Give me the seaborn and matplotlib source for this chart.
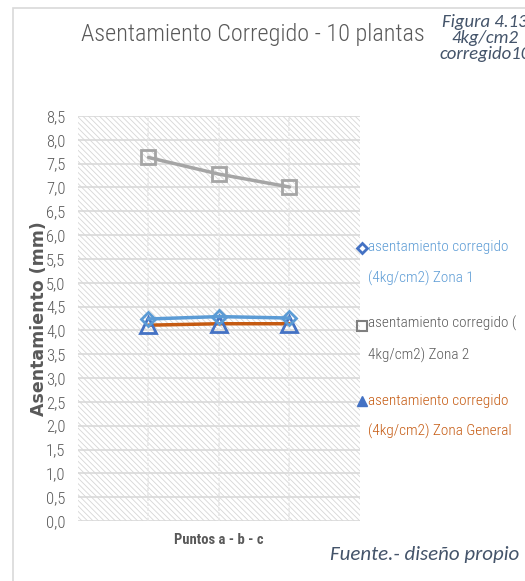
import pandas as pd
import matplotlib.pyplot as plt
import seaborn as sns
from matplotlib.lines import Line2D

puntos = ["a", "b", "c"]
zona1 = [4.24, 4.29, 4.26]
zona2 = [7.63, 7.28, 7.01]
zona_general = [4.11, 4.14, 4.14]
series_names = ["asentamiento corregido\n(4kg/cm2) Zona 1",
                "asentamiento corregido (\n4kg/cm2) Zona 2",
                "asentamiento corregido\n(4kg/cm2) Zona General"]
y_ticks = [0.0, 0.5, 1.0, 1.5, 2.0, 2.5, 3.0, 3.5, 4.0, 4.5, 5.0, 5.5, 6.0, 6.5, 7.0, 7.5, 8.0, 8.5]

df = pd.DataFrame({"pos": range(len(puntos)), "punto": puntos,
                   "zona1": zona1, "zona2": zona2, "zona_general": zona_general})

sns.set_style("white")
plt.rcParams['font.family'] = ["Roboto Condensed", "DejaVu Sans"]
plt.rcParams['hatch.linewidth'] = 0.6
italic_font = ["Carlito", "Open Sans", "DejaVu Sans"]

fig = plt.figure(figsize=(5.25, 5.81), dpi=100)
ax = fig.add_axes([0.1486, 0.1033, 0.537, 0.697])

# hatched plot background
ax.axvspan(-1, 3, facecolor='white', edgecolor='#D6D6D6', hatch='\\\\\\\\\\\\', lw=0, zorder=0)
for y in y_ticks:
    ax.axhline(y, color='#D9D9D9', lw=1.2, zorder=1)
for x in df["pos"]:
    ax.axvline(x, color='#E6E6E6', lw=1.2, ls=(0, (2, 1)), zorder=1)

sns.lineplot(data=df, x="pos", y="zona_general", ax=ax, color='#C55A11', lw=2.5,
             marker='^', markersize=12, markerfacecolor='none', markeredgecolor='#4472C4',
             markeredgewidth=2, zorder=3)
sns.lineplot(data=df, x="pos", y="zona1", ax=ax, color='#5B9BD5', lw=2.5,
             marker='D', markersize=7, markerfacecolor='none', markeredgecolor='#5B9BD5',
             markeredgewidth=2, zorder=4)
sns.lineplot(data=df, x="pos", y="zona2", ax=ax, color='#A5A5A5', lw=2.5,
             marker='s', markersize=10, markerfacecolor='none', markeredgecolor='#A5A5A5',
             markeredgewidth=2, zorder=4)

ax.set_xlim(-1, 3)
ax.set_ylim(0, 8.5)
ax.set_yticks(y_ticks)
ax.set_yticklabels([f"{v:.1f}".replace(".", ",") for v in y_ticks], color='#595959',
                   fontsize=12, fontweight='light')
ax.set_xticks([])
ax.tick_params(axis='y', length=0, pad=9)
for s in ax.spines.values():
    s.set_visible(False)
ax.set_xlabel("Puntos a - b - c", fontsize=10.5, fontweight='bold', color='#595959', labelpad=9)
ax.set_ylabel("Asentamiento (mm)", fontsize=12.5, fontweight='bold', color='#595959',
              family='DejaVu Sans')
ax.yaxis.set_label_coords(-0.108, 0.5)

fig.text(0.482, 0.941, "Asentamiento Corregido - 10 plantas", fontsize=17.5, color='#595959',
         fontweight='light', ha='center', va='center')
fig.text(0.924, 0.934, "Figura 4.13\n4kg/cm2\ncorregido10", fontsize=13.5, style='italic',
         color='#44546A', ha='center', va='center', family=italic_font, linespacing=1.0)
fig.text(0.628, 0.045, "Fuente.- diseño propio", fontsize=15, style='italic',
         color='#44546A', ha='left', va='center', family=italic_font)

# outer chart frame
fig.add_artist(plt.Rectangle((0.025, -0.01), 1.0, 0.996, transform=fig.transFigure,
                             fill=False, edgecolor='#D9D9D9', lw=1.2))

# legend, marker beside the first line of each entry
legend_markers = [dict(marker='D', color='#4472C4', markersize=5.5, markerfacecolor='none', markeredgewidth=2),
                  dict(marker='s', color='#7F7F7F', markersize=7, markerfacecolor='none', markeredgewidth=1.5),
                  dict(marker='^', color='#4472C4', markersize=7)]
legend_colors = ['#5B9BD5', '#595959', '#C55A11']
marker_y = [0.573, 0.439, 0.310]
text_y = [0.547, 0.4165, 0.283]
for name, mk, col, ym, yt in zip(series_names, legend_markers, legend_colors, marker_y, text_y):
    fig.add_artist(Line2D([0.690], [ym], transform=fig.transFigure, ls='none', **mk))
    fig.text(0.700, yt, name, fontsize=11, color=col, ha='left', va='center',
             fontweight='light', linespacing=2.4)

plt.savefig("out.png")
